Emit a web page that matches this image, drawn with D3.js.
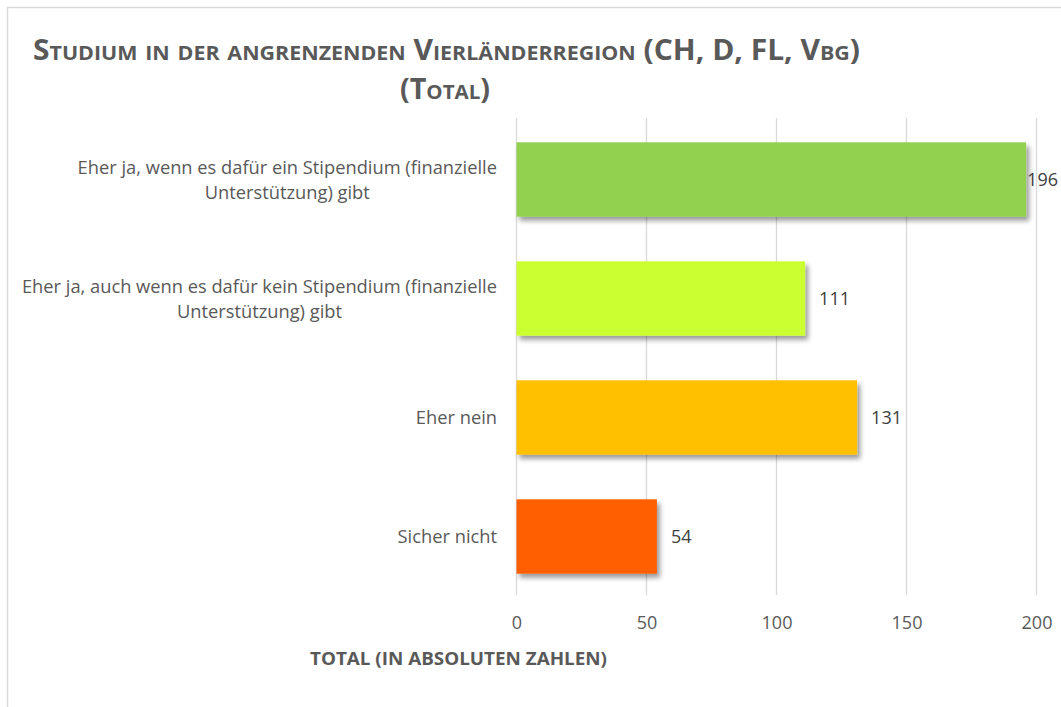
<!DOCTYPE html>
<html>
<head>
<meta charset="utf-8">
<script src="https://cdn.jsdelivr.net/npm/d3@7"></script>
<style>
  body { margin: 0; background: #fff; }
  text { font-family: "Open Sans", "DejaVu Sans", sans-serif; }
</style>
</head>
<body>
<svg width="1061" height="707"></svg>
<script>
// data
const categories = [
  "Eher ja, wenn es dafür ein Stipendium (finanzielle Unterstützung) gibt",
  "Eher ja, auch wenn es dafür kein Stipendium (finanzielle Unterstützung) gibt",
  "Eher nein",
  "Sicher nicht"
];
const values = [196, 111, 131, 54];
const barColors = ["#92d050", "#ccff33", "#ffc000", "#ff5f00"];
const xTicks = [0, 50, 100, 150, 200];

const titleLines = ["Studium in der angrenzenden Vierländerregion (CH, D, FL, Vbg)", "(Total)"];
const axisTitle = "TOTAL (IN ABSOLUTEN ZAHLEN)";

const svg = d3.select("svg");
const W = +svg.attr("width");
const textColor = "#595959";

// outer chart frame (runs off the right and bottom edge like the screenshot)
svg.append("rect")
  .attr("x", 7.5).attr("y", 7.5)
  .attr("width", W).attr("height", 720)
  .attr("fill", "none")
  .attr("stroke", "#d9d9d9")
  .attr("stroke-width", 1.5);

// shadow for bars
const defs = svg.append("defs");
defs.append("filter")
  .attr("id", "shadow")
  .attr("x", "-10%").attr("y", "-20%").attr("width", "130%").attr("height", "150%")
  .append("feDropShadow")
  .attr("dx", 3).attr("dy", 4)
  .attr("stdDeviation", 2.5)
  .attr("flood-color", "#000")
  .attr("flood-opacity", 0.4);

// scales
const x = d3.scaleLinear().domain([0, 200]).range([516.5, 1036.5]);
const y = d3.scaleBand()
  .domain(categories)
  .range([120, 596])
  .paddingInner(0.375)
  .paddingOuter(0.1875);

// title
const title = svg.append("g")
  .attr("fill", textColor)
  .attr("font-weight", 700)
  .style("font-variant", "small-caps");

title.append("text")
  .attr("x", 446.5).attr("y", 60)
  .attr("text-anchor", "middle")
  .attr("font-size", 28)
  .attr("textLength", 827)
  .attr("lengthAdjust", "spacingAndGlyphs")
  .text(titleLines[0]);

title.append("text")
  .attr("x", 445).attr("y", 99)
  .attr("text-anchor", "middle")
  .attr("font-size", 28)
  .attr("textLength", 90)
  .attr("lengthAdjust", "spacingAndGlyphs")
  .text(titleLines[1]);

// gridlines
svg.append("g")
  .selectAll("line")
  .data(xTicks)
  .enter().append("line")
  .attr("x1", d => x(d)).attr("x2", d => x(d))
  .attr("y1", 118).attr("y2", 595)
  .attr("stroke", "#d9d9d9")
  .attr("stroke-width", 1.3);

// x axis tick labels
const xAxis = svg.append("g")
  .attr("transform", "translate(0,629)")
  .call(d3.axisBottom(x).tickValues(xTicks).tickSize(0).tickPadding(0));
xAxis.select(".domain").remove();
xAxis.selectAll("text")
  .attr("dy", 0)
  .attr("fill", textColor)
  .attr("font-size", 18)
  .attr("font-family", "Open Sans");

// bars
svg.append("g")
  .selectAll("rect")
  .data(values)
  .enter().append("rect")
  .attr("x", x(0))
  .attr("y", (d, i) => y(categories[i]))
  .attr("width", d => x(d) - x(0))
  .attr("height", y.bandwidth())
  .attr("fill", (d, i) => barColors[i])
  .attr("filter", "url(#shadow)");

// value labels
svg.append("g")
  .selectAll("text")
  .data(values)
  .enter().append("text")
  .attr("y", (d, i) => y(categories[i]) + y.bandwidth() / 2)
  .attr("dy", "0.37em")
  .attr("fill", "#404040")
  .attr("font-size", 18)
  .text(d => d)
  .attr("x", function(d) {
    const w = this.getComputedTextLength();
    return Math.min(x(d) + 14, W - 3 - w);
  });

// category labels, wrapped and centred inside a right aligned block
const labelRight = 497;
const lineH = 25.5;
const labels = svg.append("g")
  .attr("fill", textColor)
  .attr("font-size", 18.3);

categories.forEach(function(cat) {
  const t = labels.append("text").attr("text-anchor", "middle");
  const words = cat.split(" ");
  const lines = [];
  let cur = [];
  words.forEach(function(w) {
    t.text(cur.concat(w).join(" "));
    if (cur.length && t.node().getComputedTextLength() > 490) {
      lines.push(cur.join(" "));
      cur = [w];
    } else {
      cur.push(w);
    }
  });
  lines.push(cur.join(" "));
  t.text(null);

  // widest line decides the block's centre
  let maxW = 0;
  lines.forEach(function(l) {
    const s = labels.append("text").text(l);
    maxW = Math.max(maxW, s.node().getComputedTextLength());
    s.remove();
  });
  const cx = labelRight - maxW / 2;
  const cy = y(cat) + y.bandwidth() / 2;
  lines.forEach(function(l, i) {
    t.append("tspan")
      .attr("x", cx)
      .attr("y", cy + (i - (lines.length - 1) / 2) * lineH)
      .attr("dy", "0.37em")
      .text(l);
  });
});

// axis title
svg.append("text")
  .attr("x", 310).attr("y", 665)
  .attr("fill", textColor)
  .attr("font-weight", 700)
  .attr("font-size", 18)
  .attr("textLength", 297)
  .attr("lengthAdjust", "spacingAndGlyphs")
  .text(axisTitle);
</script>
</body>
</html>
